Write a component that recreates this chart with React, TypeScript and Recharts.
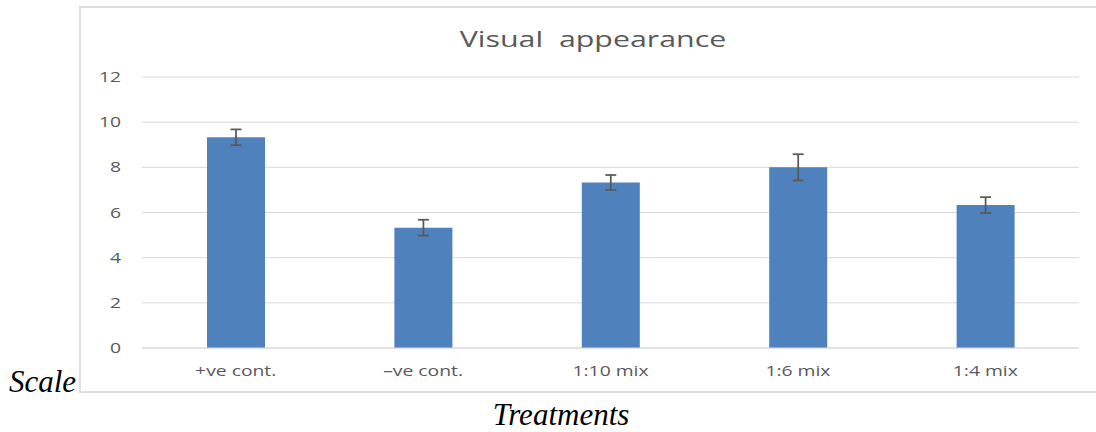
import React from 'react';
import { BarChart, Bar, XAxis, YAxis, CartesianGrid, ErrorBar } from 'recharts';

const categories = ['+ve cont.', '–ve cont.', '1:10 mix', '1:6 mix', '1:4 mix'];
const means = [9.33, 5.33, 7.33, 8.0, 6.33];
const errors = [0.35, 0.35, 0.33, 0.58, 0.35];
const yTicks = [0, 2, 4, 6, 8, 10, 12];
const titleText = 'Visual  appearance';
const yTitle = 'Scale';
const xTitle = 'Treatments';

const data = categories.map((name, i) => ({ name, value: means[i], err: errors[i] }));

const STRETCH = 1.38;
const TEXT_COLOR = '#595959';
const FONT = '"Open Sans", sans-serif';
const SERIF = '"Liberation Serif", "Times New Roman", serif';

const XTick = (props: any) => {
  const { x, y, payload } = props;
  return (
    <g transform={`translate(${x},${y + 28}) scale(${STRETCH},1)`}>
      <text x={0} y={0} textAnchor="middle" fill={TEXT_COLOR} fontSize={14} fontFamily={FONT}>
        {payload.value}
      </text>
    </g>
  );
};

const YTick = (props: any) => {
  const { x, y, payload } = props;
  return (
    <g transform={`translate(${x},${y}) scale(${STRETCH},1)`}>
      <text x={0} y={0} dy="0.36em" textAnchor="end" fill={TEXT_COLOR} fontSize={14} fontFamily={FONT}>
        {payload.value}
      </text>
    </g>
  );
};

export default function App() {
  return (
    <div
      style={{
        position: 'absolute',
        left: 0,
        top: 0,
        width: 1096,
        height: 432,
        overflow: 'hidden',
        background: '#ffffff',
      }}
    >
      <div
        style={{
          position: 'absolute',
          left: 79,
          top: 6,
          width: 1040,
          height: 383,
          border: '2px solid #DEDEDE',
        }}
      />
      <div style={{ position: 'absolute', left: 0, top: 0 }}>
        <BarChart
          width={1096}
          height={432}
          data={data}
          margin={{ top: 77, right: 17, bottom: 0, left: 0 }}
          barSize={58}
        >
          <CartesianGrid vertical={false} stroke="#D9D9D9" strokeWidth={1} />
          <XAxis
            dataKey="name"
            height={84}
            axisLine={{ stroke: '#D9D9D9' }}
            tickLine={false}
            tickSize={0}
            tickMargin={0}
            tick={<XTick />}
            interval={0}
          />
          <YAxis
            width={142}
            domain={[0, 12]}
            ticks={yTicks}
            axisLine={false}
            tickLine={false}
            tickSize={0}
            tickMargin={21}
            tick={<YTick />}
            interval={0}
          />
          <Bar dataKey="value" fill="#4F81BD" isAnimationActive={false}>
            <ErrorBar
              dataKey="err"
              direction="y"
              width={5.5}
              stroke="#595959"
              strokeWidth={1.75}
              isAnimationActive={false}
            />
          </Bar>
        </BarChart>
      </div>
      <svg
        width={1096}
        height={432}
        style={{ position: 'absolute', left: 0, top: 0, pointerEvents: 'none' }}
      >
        <g transform={`translate(593,47) scale(${STRETCH},1)`}>
          <text
            x={0}
            y={0}
            textAnchor="middle"
            fill={TEXT_COLOR}
            fontSize={22}
            fontFamily={FONT}
            xmlSpace="preserve"
            style={{ whiteSpace: 'pre' }}
          >
            {titleText}
          </text>
        </g>
        <text x={9} y={392} fill="#000000" fontSize={31} fontStyle="italic" fontFamily={SERIF}>
          {yTitle}
        </text>
        <text
          x={561}
          y={425}
          textAnchor="middle"
          fill="#000000"
          fontSize={31}
          fontStyle="italic"
          fontFamily={SERIF}
        >
          {xTitle}
        </text>
      </svg>
    </div>
  );
}
